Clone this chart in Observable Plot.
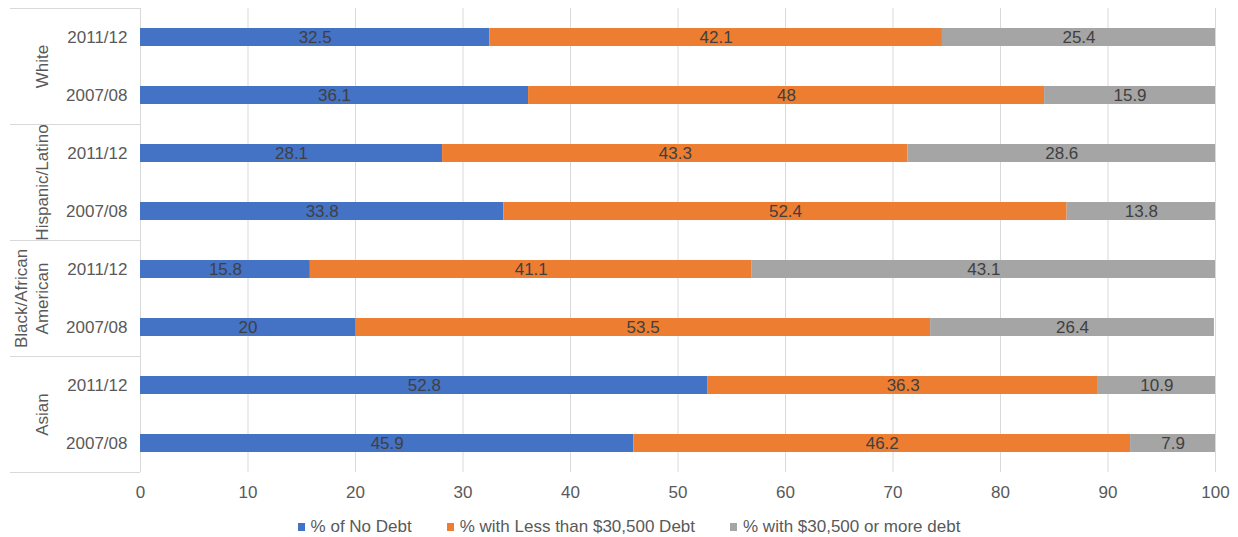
<!DOCTYPE html>
<html>
<head>
<meta charset="utf-8">
<script src="https://cdn.jsdelivr.net/npm/d3@7"></script>
<script src="https://cdn.jsdelivr.net/npm/@observablehq/plot@0.6"></script>
<style>
  body { margin: 0; background: #fff; font-family: "Liberation Sans", Arial, sans-serif; }
  #legend { display: flex; justify-content: center; align-items: center; gap: 35px; height: 37px;
            padding-left: 20px; font-size: 17px; color: #595959; }
  #legend .item { display: flex; align-items: center; }
  #legend .sw { display: inline-block; width: 7px; height: 8px; margin-right: 6px; }
</style>
</head>
<body>
<div id="chart"></div>
<div id="legend"></div>
<script>
// Student debt at graduation by race/ethnicity, two cohorts each
const groups = ["White", "Hispanic/Latino", "Black/African\nAmerican", "Asian"];
const years = ["2011/12", "2007/08"];
const seriesNames = ["% of No Debt", "% with Less than $30,500 Debt", "% with $30,500 or more debt"];
const seriesColors = ["#4472C4", "#ED7D31", "#A5A5A5"];

// One value per row, rows ordered group by group, 2011/12 then 2007/08
const noDebt   = [32.5, 36.1, 28.1, 33.8, 15.8, 20,   52.8, 45.9];
const lessDebt = [42.1, 48,   43.3, 52.4, 41.1, 53.5, 36.3, 46.2];
const moreDebt = [25.4, 15.9, 28.6, 13.8, 43.1, 26.4, 10.9, 7.9];
const xTicks = [0, 10, 20, 30, 40, 50, 60, 70, 80, 90, 100];

// Build stacked segments row by row
const seriesValues = [noDebt, lessDebt, moreDebt];
const segments = [];
for (let row = 0; row < noDebt.length; row++) {
  let start = 0;
  seriesValues.forEach((vals, s) => {
    const v = vals[row];
    segments.push({row, series: seriesNames[s], value: v, x1: start, x2: start + v});
    start += v;
  });
}
const rows = d3.range(noDebt.length);
const groupCenters = groups.map((g, i) => ({label: g, y: i * years.length + (years.length - 1) / 2}));
const separators = d3.range(groups.length + 1).map(i => i * years.length - 0.5);

const half = 0.155; // half bar thickness in row units
const font = "Liberation Sans, Arial, sans-serif";

const chart = Plot.plot({
  width: 1238,
  height: 508,
  marginLeft: 140,
  marginRight: 23,
  marginTop: 8,
  marginBottom: 36,
  style: {fontFamily: font, fontSize: "17px", color: "#595959", background: "#fff"},
  x: {domain: [0, 100]},
  y: {type: "linear", domain: [-0.5, rows.length - 0.5], reverse: true},
  color: {domain: seriesNames, range: seriesColors},
  marks: [
    Plot.gridX({ticks: xTicks, stroke: "#d9d9d9", strokeOpacity: 1}),
    Plot.ruleY(separators, {x1: -12.1, x2: 0, stroke: "#d9d9d9"}),
    Plot.rectX(segments, {
      x1: "x1", x2: "x2",
      y1: d => d.row - half, y2: d => d.row + half,
      fill: "series"
    }),
    Plot.text(segments, {
      x: d => (d.x1 + d.x2) / 2, y: "row",
      text: d => String(d.value),
      fill: "#404040", fontSize: 17
    }),
    Plot.axisX({ticks: xTicks, tickSize: 0, tickPadding: 13, label: null, fontSize: 17}),
    Plot.axisY({ticks: rows, tickFormat: i => years[i % years.length], tickSize: 0, tickPadding: 13, label: null, fontSize: 17}),
    Plot.text(groupCenters, {
      x: -8.6, y: "y", text: "label", rotate: -90,
      lineAnchor: "bottom", lineHeight: 1.25, textAnchor: "middle",
      fill: "#595959", fontSize: 17
    })
  ]
});
document.getElementById("chart").appendChild(chart);

// Legend below the chart
const legend = document.getElementById("legend");
seriesNames.forEach((name, i) => {
  const item = document.createElement("span");
  item.className = "item";
  const sw = document.createElement("span");
  sw.className = "sw";
  sw.style.background = seriesColors[i];
  item.appendChild(sw);
  item.appendChild(document.createTextNode(name));
  legend.appendChild(item);
});
</script>
</body>
</html>
